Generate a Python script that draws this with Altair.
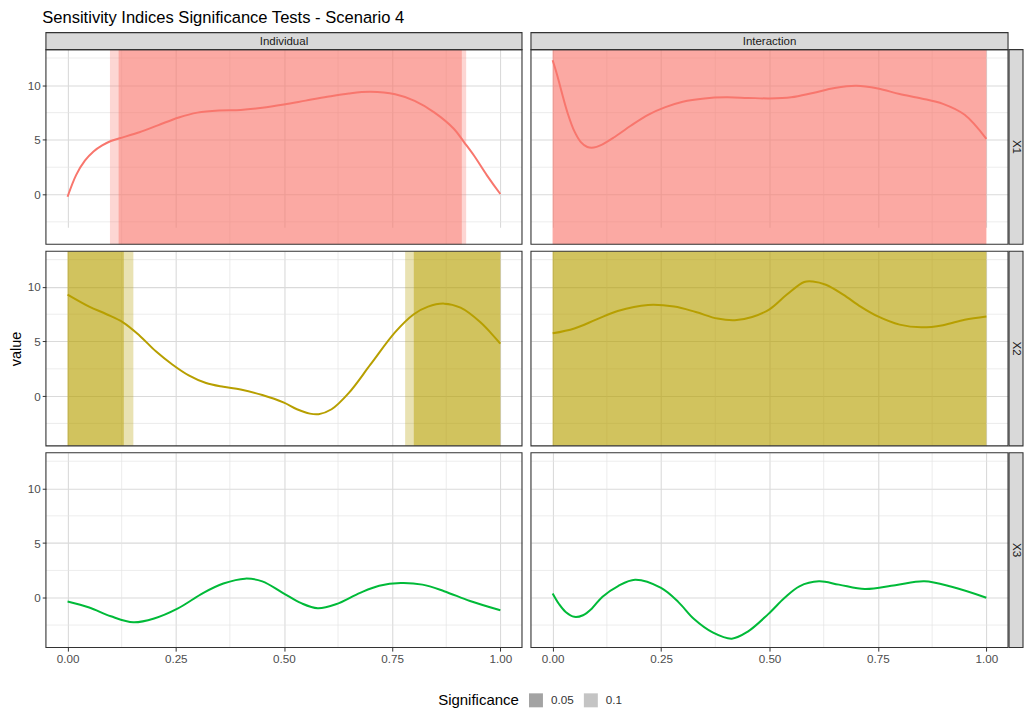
import altair as alt
import pandas as pd

# ---------------- data ----------------
types = ["Individual", "Interaction"]
variables = ["X1", "X2", "X3"]
var_colors = ["#F8766D", "#B79F00", "#00BA38"]

x_ticks = [0.0, 0.25, 0.5, 0.75, 1.0]
x_minor = [0.125, 0.375, 0.625, 0.875]
y_ticks = [0, 5, 10]
y_minor = [-2.5, 2.5, 7.5, 12.5]

ind_x1_x = [0.0, 0.02, 0.04, 0.06, 0.08, 0.10, 0.12, 0.166, 0.21, 0.257, 0.30, 0.35, 0.40, 0.45,
            0.50, 0.55, 0.60, 0.65, 0.70, 0.757, 0.802, 0.848, 0.893, 0.916, 0.939, 0.969, 1.0]
ind_x1_y = [-0.2, 1.8, 3.1, 3.95, 4.5, 4.9, 5.15, 5.7, 6.36, 7.06, 7.5, 7.7, 7.75, 7.95,
            8.25, 8.6, 8.95, 9.25, 9.4, 9.18, 8.57, 7.5, 6.0, 4.8, 3.57, 1.76, 0.05]

int_x1_x = [0.0, 0.01, 0.02, 0.035, 0.05, 0.065, 0.08, 0.095, 0.11, 0.14, 0.18, 0.22, 0.26,
            0.30, 0.35, 0.40, 0.45, 0.50, 0.55, 0.60, 0.65, 0.70, 0.75, 0.80, 0.85, 0.90, 0.95, 1.0]
int_x1_y = [12.3, 11.0, 9.5, 7.4, 5.8, 4.8, 4.35, 4.3, 4.5, 5.2, 6.3, 7.3, 8.0,
            8.5, 8.8, 8.9, 8.85, 8.8, 8.9, 9.3, 9.75, 9.95, 9.7, 9.2, 8.8, 8.3, 7.3, 5.1]

ind_x2_x = [0.0, 0.05, 0.09, 0.128, 0.166, 0.204, 0.242, 0.28, 0.32, 0.36, 0.40, 0.45, 0.50,
            0.53, 0.56, 0.58, 0.61, 0.65, 0.70, 0.757, 0.80, 0.833, 0.87, 0.908, 0.954, 1.0]
ind_x2_y = [9.3, 8.2, 7.5, 6.76, 5.56, 4.1, 2.9, 1.9, 1.2, 0.85, 0.6, 0.1, -0.6,
            -1.2, -1.6, -1.65, -1.2, 0.3, 2.9, 5.86, 7.5, 8.2, 8.47, 8.1, 6.76, 4.8]

int_x2_x = [0.0, 0.05, 0.10, 0.15, 0.22, 0.28, 0.33, 0.38, 0.42, 0.46, 0.50, 0.54, 0.58,
            0.60, 0.63, 0.67, 0.71, 0.75, 0.80, 0.85, 0.90, 0.95, 1.0]
int_x2_y = [5.75, 6.2, 7.0, 7.8, 8.35, 8.2, 7.7, 7.1, 6.95, 7.25, 7.95, 9.3, 10.45,
            10.5, 10.2, 9.3, 8.2, 7.3, 6.55, 6.3, 6.5, 7.0, 7.3]

ind_x3_x = [0.0, 0.05, 0.10, 0.152, 0.20, 0.254, 0.314, 0.36, 0.41, 0.45, 0.497, 0.54, 0.578,
            0.62, 0.676, 0.72, 0.77, 0.82, 0.87, 0.93, 1.0]
ind_x3_y = [-0.35, -0.9, -1.7, -2.25, -1.9, -1.0, 0.45, 1.3, 1.75, 1.5, 0.45, -0.5, -0.96,
            -0.6, 0.45, 1.1, 1.35, 1.2, 0.6, -0.3, -1.15]

int_x3_x = [0.0, 0.015, 0.03, 0.05, 0.07, 0.09, 0.115, 0.15, 0.19, 0.25, 0.29, 0.326, 0.37,
            0.413, 0.45, 0.497, 0.535, 0.569, 0.614, 0.66, 0.72, 0.79, 0.857, 0.92, 1.0]
int_x3_y = [0.39, -0.6, -1.3, -1.75, -1.6, -1.0, 0.1, 1.05, 1.65, 0.9, -0.4, -1.95, -3.2,
            -3.75, -3.1, -1.5, 0.0, 1.05, 1.5, 1.2, 0.8, 1.15, 1.5, 1.0, 0.0]

# significance intervals: (type, variable, level, start, end)
sig_type = ["Individual", "Individual", "Individual", "Individual", "Individual", "Individual",
            "Interaction", "Interaction", "Interaction", "Interaction"]
sig_var = ["X1", "X1", "X2", "X2", "X2", "X2", "X1", "X1", "X2", "X2"]
sig_level = ["0.1", "0.05", "0.1", "0.05", "0.1", "0.05", "0.1", "0.05", "0.1", "0.05"]
sig_start = [0.098, 0.118, 0.0, 0.0, 0.78, 0.80, 0.0, 0.0, 0.0, 0.0]
sig_end = [0.921, 0.911, 0.152, 0.130, 1.0, 1.0, 1.0, 1.0, 1.0, 1.0]

curves = {
    ("Individual", "X1"): (ind_x1_x, ind_x1_y),
    ("Interaction", "X1"): (int_x1_x, int_x1_y),
    ("Individual", "X2"): (ind_x2_x, ind_x2_y),
    ("Interaction", "X2"): (int_x2_x, int_x2_y),
    ("Individual", "X3"): (ind_x3_x, ind_x3_y),
    ("Interaction", "X3"): (int_x3_x, int_x3_y),
}

rect_df = pd.DataFrame({"type": sig_type, "var": sig_var, "sig": sig_level,
                        "start": sig_start, "end": sig_end})

# ---------------- layout / style ----------------
FONT = "Liberation Sans"
W_LEFT = 477
W_RIGHT = 478
H = 195
STRIP_H = 17
RSTRIP_W = 14
RGAP = 1
GRID = "#DADADA"
GRID_MINOR = "#E4E4E4"
BORDER = "#333333"
STRIP_FILL = "#D9D9D9"

cscale = alt.Scale(domain=variables, range=var_colors)
oscale = alt.Scale(domain=["0.05", "0.1"], range=[0.47, 0.3])
sig_legend = alt.Legend(
    title="Significance", orient="none", legendX=393, legendY=662,
    direction="horizontal", titleOrient="left", symbolType="square",
    symbolSize=196, symbolStrokeWidth=0, symbolFillColor="#3C3C3C",
    titleFontSize=15, titleFontWeight="normal",
    titleColor="#000000", titleFont=FONT, labelFont=FONT, labelFontSize=11.7,
    labelColor="#333333", columnPadding=10, titlePadding=10, labelOffset=8,
)
one = pd.DataFrame({"a": [0]})


def panel(r, c):
    typ = types[c]
    var = variables[r]
    W = W_LEFT if c == 0 else W_RIGHT
    y0 = STRIP_H if r == 0 else 0
    xs = alt.Scale(domain=[-0.05, 1.05], range=[0, W], nice=False, zero=False)
    ys = alt.Scale(domain=[-4.55, 13.27], range=[y0 + H, y0], nice=False, zero=False)

    xaxis = alt.Axis(values=x_ticks, format=".2f", grid=True, gridColor=GRID, gridWidth=1.1,
                     labels=(r == 2), ticks=(r == 2), domain=False, title=None,
                     tickColor=BORDER, tickSize=3.7, tickWidth=1, labelFontSize=11.7,
                     labelColor="#4D4D4D", labelPadding=2, labelFont=FONT)
    if c == 0:
        yaxis = alt.Axis(values=y_ticks, grid=True, gridColor=GRID, gridWidth=1.1,
                         labels=True, ticks=True, domain=False, title="value",
                         titleOpacity=(1 if r == 1 else 0), titleFontSize=14.5,
                         titleFontWeight="normal", titleColor="#000000", titleFont=FONT,
                         titlePadding=4, tickColor=BORDER, tickSize=3.7, tickWidth=1,
                         labelFontSize=11.7, labelColor="#4D4D4D", labelPadding=2,
                         labelFont=FONT)
    else:
        yaxis = alt.Axis(values=y_ticks, grid=True, gridColor=GRID, gridWidth=1.1,
                         labels=False, ticks=False, domain=False, title=None)

    layers = []
    layers.append(
        alt.Chart(pd.DataFrame({"v": x_minor})).mark_rule(color=GRID_MINOR, strokeWidth=0.7)
        .encode(x=alt.X("v:Q", scale=xs, axis=xaxis), y=alt.value(y0), y2=alt.value(y0 + H))
    )
    layers.append(
        alt.Chart(pd.DataFrame({"v": y_minor})).mark_rule(color=GRID_MINOR, strokeWidth=0.7)
        .encode(y=alt.Y("v:Q", scale=ys, axis=yaxis), x=alt.value(0), x2=alt.value(W))
    )
    sub = rect_df[(rect_df["type"] == typ) & (rect_df["var"] == var)]
    if len(sub):
        layers.append(
            alt.Chart(sub).mark_rect()
            .encode(x=alt.X("start:Q", scale=xs, axis=xaxis), x2=alt.X2("end:Q"),
                    y=alt.value(y0), y2=alt.value(y0 + H),
                    color=alt.Color("var:N", scale=cscale, legend=None),
                    opacity=alt.Opacity("sig:N", scale=oscale, legend=sig_legend))
        )
    xv, yv = curves[(typ, var)]
    line_df = pd.DataFrame({"x": xv, "value": yv, "var": var})
    layers.append(
        alt.Chart(line_df).mark_line(strokeWidth=2, interpolate="catmull-rom")
        .encode(x=alt.X("x:Q", scale=xs, axis=xaxis), y=alt.Y("value:Q", scale=ys, axis=yaxis),
                color=alt.Color("var:N", scale=cscale, legend=None))
    )
    layers.append(
        alt.Chart(one).mark_rect(fill="#ffffff", fillOpacity=0, stroke=BORDER, strokeWidth=1.1)
        .encode(x=alt.value(0), x2=alt.value(W), y=alt.value(y0), y2=alt.value(y0 + H))
    )
    if r == 0:
        layers.append(
            alt.Chart(one).mark_rect(fill=STRIP_FILL, stroke=BORDER, strokeWidth=1.1)
            .encode(x=alt.value(0), x2=alt.value(W), y=alt.value(0), y2=alt.value(STRIP_H))
        )
        layers.append(
            alt.Chart(pd.DataFrame({"label": [typ]}))
            .mark_text(font=FONT, fontSize=11.5, color="#1A1A1A", align="center", baseline="middle")
            .encode(text="label:N", x=alt.value(W / 2), y=alt.value(STRIP_H / 2 + 0.5))
        )
    if c == 1:
        layers.append(
            alt.Chart(one).mark_rect(fill=STRIP_FILL, stroke=BORDER, strokeWidth=1.1)
            .encode(x=alt.value(W + RGAP), x2=alt.value(W + RGAP + RSTRIP_W),
                    y=alt.value(y0), y2=alt.value(y0 + H))
        )
        layers.append(
            alt.Chart(pd.DataFrame({"label": [var]}))
            .mark_text(font=FONT, fontSize=11.5, color="#1A1A1A", align="center",
                       baseline="middle", angle=90)
            .encode(text="label:N", x=alt.value(W + RGAP + RSTRIP_W / 2),
                    y=alt.value(y0 + H / 2))
        )
    total_w = W + (RGAP + RSTRIP_W if c == 1 else 0)
    total_h = H + (STRIP_H if r == 0 else 0)
    return alt.layer(*layers).properties(width=total_w, height=total_h)


rows = []
for r in range(3):
    rows.append(
        alt.hconcat(panel(r, 0), panel(r, 1), spacing=7)
        .resolve_scale(x="independent", y="independent", color="shared", opacity="shared")
    )

chart = (
    alt.vconcat(*rows, spacing=5)
    .resolve_scale(x="independent", y="independent", color="shared", opacity="shared")
    .properties(
        title=alt.TitleParams("Sensitivity Indices Significance Tests - Scenario 4",
                              anchor="start", fontSize=16.6, fontWeight="normal",
                              color="#000000", font=FONT, dx=34, offset=6),
        padding=0,
    )
    .configure(font=FONT)
    .configure_view(strokeWidth=0)
)

chart.save("out.html", embed_options={"renderer": "svg", "actions": False})
